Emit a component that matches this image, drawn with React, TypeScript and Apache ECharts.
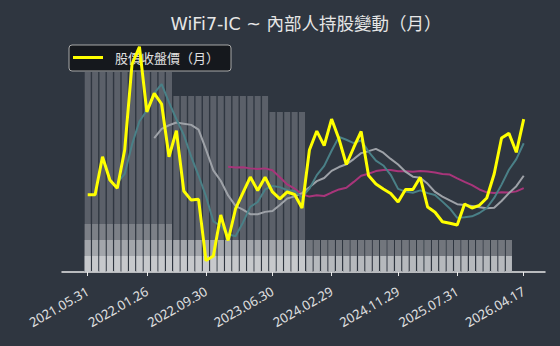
import React, { useEffect, useRef } from 'react';
import * as echarts from 'echarts';

// Monthly categories (index 0 = 2021.05 ... index 59 = 2026.04)
const months: string[] = [
  '2021.05', '2021.06', '2021.07', '2021.08', '2021.09', '2021.10', '2021.11', '2021.12',
  '2022.01', '2022.02', '2022.03', '2022.04', '2022.05', '2022.06', '2022.07', '2022.08',
  '2022.09', '2022.10', '2022.11', '2022.12', '2023.01', '2023.02', '2023.03', '2023.04',
  '2023.05', '2023.06', '2023.07', '2023.08', '2023.09', '2023.10', '2023.11', '2023.12',
  '2024.01', '2024.02', '2024.03', '2024.04', '2024.05', '2024.06', '2024.07', '2024.08',
  '2024.09', '2024.10', '2024.11', '2024.12', '2025.01', '2025.02', '2025.03', '2025.04',
  '2025.05', '2025.06', '2025.07', '2025.08', '2025.09', '2025.10', '2025.11', '2025.12',
  '2026.01', '2026.02', '2026.03', '2026.04',
];

const tickIndex: number[] = [0, 8, 16, 25, 33, 42, 50, 59];
const tickLabels: string[] = [
  '2021.05.31', '2022.01.26', '2022.09.30', '2023.06.30',
  '2024.02.29', '2024.11.29', '2025.07.31', '2026.04.17',
];

const legendName = '股價收盤價（月）';

// Monthly close
const price: number[] = [
  40.0, 40.0, 59.6, 47.6, 43.3, 63.1, 107.6, 116.5, 82.8, 92.4,
  86.9, 59.6, 73.1, 41.9, 37.2, 37.6, 5.9, 8.3, 29.5, 16.3,
  32.6, 40.9, 49.1, 42.2, 49.0, 41.4, 37.8, 41.4, 40.1, 33.1,
  63.1, 72.9, 65.4, 79.1, 68.8, 55.6, 64.4, 72.7, 49.9, 45.5,
  42.9, 40.6, 36.2, 42.7, 42.7, 49.0, 33.6, 30.9, 26.0, 25.2,
  24.3, 35.2, 33.1, 34.5, 38.3, 50.7, 69.3, 71.7, 61.9, 79.1,
];

// Short average (teal)
const avgShort: (number | null)[] = [
  null, null, null, null, 46.1, 50.7, 66.0, 78.0, 83.5, 92.5,
  97.2, 87.7, 79.0, 70.9, 59.7, 49.9, 39.2, 26.2, 23.8, 19.5,
  18.5, 25.5, 33.7, 36.2, 42.7, 44.5, 43.9, 42.3, 41.9, 38.7,
  43.1, 50.1, 54.9, 62.7, 69.9, 68.4, 66.7, 68.1, 62.3, 57.6,
  55.1, 50.3, 43.0, 41.6, 41.0, 42.2, 40.8, 39.8, 36.4, 32.9,
  28.0, 28.3, 28.8, 30.5, 33.1, 38.3, 45.2, 52.9, 58.4, 66.6,
];

// Mid average (light grey)
const avgMid: (number | null)[] = [
  null, null, null, null, null, null, null, null, null, 69.3,
  74.0, 75.9, 77.3, 76.7, 76.1, 73.6, 63.4, 52.6, 47.2, 39.6,
  34.2, 32.3, 29.9, 29.9, 31.1, 31.5, 34.7, 38.0, 39.1, 40.8,
  43.8, 47.0, 48.6, 52.3, 54.3, 55.7, 58.4, 61.5, 62.5, 63.7,
  61.7, 58.5, 55.6, 51.9, 49.3, 48.7, 45.6, 41.4, 39.0, 37.0,
  35.1, 34.6, 34.2, 33.5, 33.0, 33.2, 36.7, 40.8, 44.4, 49.8,
];

// Long average (magenta)
const avgLong: (number | null)[] = [
  null, null, null, null, null, null, null, null, null, null,
  null, null, null, null, null, null, null, null, null, 54.5,
  54.1, 54.2, 53.6, 53.3, 53.6, 52.6, 49.0, 45.3, 43.1, 40.2,
  39.0, 39.7, 39.3, 41.1, 42.7, 43.6, 46.6, 49.8, 50.8, 52.2,
  52.8, 52.8, 52.1, 52.1, 51.8, 52.2, 52.0, 51.5, 50.7, 50.4,
  48.4, 46.6, 44.9, 42.7, 41.2, 40.9, 41.2, 41.1, 41.7, 43.4,
];

// Insider holding layers (stack order bottom -> top), indices 0..57
const holdBase: number[] = [
  6.9, 6.9, 6.9, 6.9, 6.9, 6.9, 6.9, 6.9, 6.9, 6.9,
  6.9, 6.9, 6.9, 6.9, 6.9, 6.9, 6.9, 6.9, 6.9, 6.9,
  6.9, 6.9, 6.9, 6.9, 6.9, 6.9, 6.9, 6.9, 6.9, 6.9,
  6.9, 6.9, 6.9, 6.9, 6.9, 6.9, 6.9, 6.9, 6.9, 6.9,
  6.9, 6.9, 6.9, 6.9, 6.9, 6.9, 6.9, 6.9, 6.9, 6.9,
  6.9, 6.9, 6.9, 6.9, 6.9, 6.9, 6.9, 6.9,
];
const holdSecond: number[] = [
  6.9, 6.9, 6.9, 6.9, 6.9, 6.9, 6.9, 6.9, 6.9, 6.9,
  6.9, 6.9, 6.9, 6.9, 6.9, 6.9, 6.9, 6.9, 6.9, 6.9,
  6.9, 6.9, 6.9, 6.9, 6.9, 6.9, 6.9, 6.9, 6.9, 6.9,
  6.9, 6.9, 6.9, 6.9, 6.9, 6.9, 6.9, 6.9, 6.9, 6.9,
  6.9, 6.9, 6.9, 6.9, 6.9, 6.9, 6.9, 6.9, 6.9, 6.9,
  6.9, 6.9, 6.9, 6.9, 6.9, 6.9, 6.9, 6.9,
];
const holdThird: number[] = [
  6.9, 6.9, 6.9, 6.9, 6.9, 6.9, 6.9, 6.9, 6.9, 6.9,
  6.9, 6.9, 0, 0, 0, 0, 0, 0, 0, 0,
  0, 0, 0, 0, 0, 0, 0, 0, 0, 0,
  0, 0, 0, 0, 0, 0, 0, 0, 0, 0,
  0, 0, 0, 0, 0, 0, 0, 0, 0, 0,
  0, 0, 0, 0, 0, 0, 0, 0,
];
const holdTop: number[] = [
  65.5, 65.5, 65.5, 65.5, 65.5, 65.5, 65.5, 65.5, 65.5, 65.5,
  65.5, 65.5, 62.1, 62.1, 62.1, 62.1, 62.1, 62.1, 62.1, 62.1,
  62.1, 62.1, 62.1, 62.1, 62.1, 55.2, 55.2, 55.2, 55.2, 55.2,
  0, 0, 0, 0, 0, 0, 0, 0, 0, 0,
  0, 0, 0, 0, 0, 0, 0, 0, 0, 0,
  0, 0, 0, 0, 0, 0, 0, 0,
];

const FONT = "'Noto Sans CJK TC', 'Noto Sans', sans-serif";
const TITLE_FONT = "'DejaVu Sans', 'Noto Sans CJK TC', sans-serif";
const BG = '#2f3640';

export default function App() {
  const ref = useRef<HTMLDivElement>(null);

  useEffect(() => {
    document.body.style.margin = '0';
    document.body.style.background = BG;
    const chart = echarts.init(ref.current as HTMLDivElement, null, { renderer: 'svg' });

    const pts = (arr: (number | null)[]) =>
      arr.map((v, i) => [i, v]).filter((p) => p[1] !== null);

    const hasTop = (i: number) => holdTop[i] > 0;

    // Stack the layers (the x axis is numeric, so the stacking is done here)
    const layers = [holdBase, holdSecond, holdThird, holdTop];
    const cumulative = layers.map((_, li) =>
      holdBase.map((__, i) => layers.slice(0, li + 1).reduce((s, arr) => s + arr[i], 0))
    );

    const barSeries = (name: string, arr: number[], color: any) => ({
      name,
      type: 'bar',
      yAxisIndex: 0,
      barWidth: 6,
      barGap: '-100%',
      data: arr.map((v, i) => [i, v]),
      itemStyle: { color },
      emphasis: { disabled: true },
      silent: true,
    });

    const lineSeries = (name: string, arr: (number | null)[], color: string, width: number, z: number) => ({
      name,
      type: 'line',
      yAxisIndex: 1,
      data: pts(arr),
      showSymbol: false,
      symbol: 'none',
      lineStyle: { color, width },
      itemStyle: { color },
      z,
    });

    chart.setOption({
      animation: false,
      backgroundColor: BG,
      title: {
        text: 'WiFi7-IC ~ 內部人持股變動（月）',
        left: 301,
        top: 10,
        textAlign: 'center',
        textStyle: { color: '#e6e6e6', fontSize: 17.5, fontWeight: 'normal', fontFamily: TITLE_FONT },
      },
      legend: {
        left: 69,
        top: 45,
        padding: [6, 12, 7, 4],
        icon: 'rect',
        itemWidth: 30,
        itemHeight: 3,
        backgroundColor: 'rgba(0,0,0,0.55)',
        borderColor: '#a8a8a8',
        borderWidth: 1,
        borderRadius: 3,
        textStyle: { color: '#e0e0e0', fontSize: 13, fontFamily: FONT, padding: [0, 0, 0, 7] },
        data: [legendName],
      },
      grid: { left: 62, right: 15, top: 40, bottom: 74 },
      xAxis: {
        type: 'value',
        min: -3.48,
        max: 61.88,
        splitLine: { show: false },
        axisLine: { show: true, onZero: false, lineStyle: { color: '#e8e8e8', width: 1.5 } },
        axisTick: { show: true, customValues: tickIndex, length: 4, lineStyle: { color: '#e8e8e8' } },
        axisLabel: {
          customValues: tickIndex,
          rotate: 30,
          fontSize: 13,
          margin: 18,
          color: '#e0e0e0',
          fontFamily: "'Noto Sans', sans-serif",
          formatter: (v: number) => {
            const k = tickIndex.indexOf(Math.round(v));
            return k >= 0 ? tickLabels[k] : '';
          },
        },
      },
      yAxis: [
        { type: 'value', min: 0, max: 100, show: false },
        { type: 'value', min: 0, max: 120, show: false },
      ],
      tooltip: { show: false },
      series: [
        barSeries('持股4', cumulative[3], '#5b6069'),
        barSeries('持股3', cumulative[2], '#7c8087'),
        barSeries('持股2', cumulative[1], (p: any) => (hasTop(p.dataIndex) ? '#a3a6ab' : '#72767d')),
        barSeries('持股1', cumulative[0], (p: any) => (hasTop(p.dataIndex) ? '#c7c9cc' : '#b6b9bd')),
        lineSeries('均線長', avgLong, '#a8357a', 2, 3),
        lineSeries('均線中', avgMid, '#9ea2a8', 2, 4),
        lineSeries('均線短', avgShort, '#4a8087', 2, 5),
        lineSeries(legendName, price, '#ffff00', 3, 6),
      ],
    });

    return () => chart.dispose();
  }, []);

  return (
    <div
      ref={ref}
      style={{ position: 'absolute', left: 0, top: 0, width: 560, height: 346 }}
      data-months={months.length}
    />
  );
}
